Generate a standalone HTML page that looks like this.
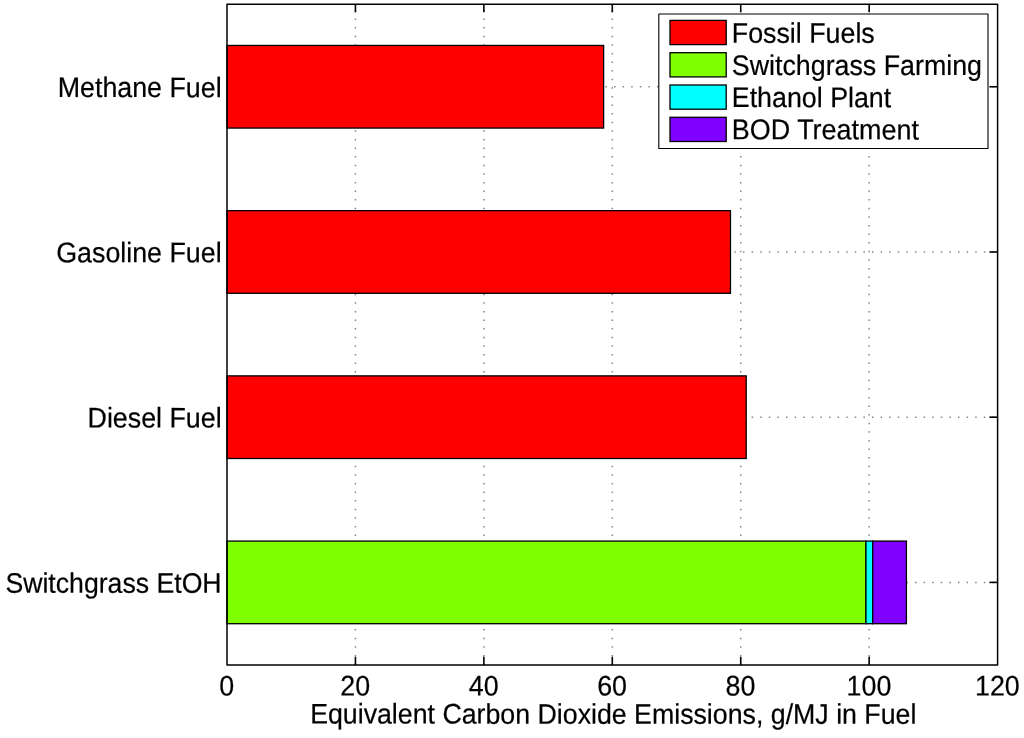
<!DOCTYPE html>
<html><head><meta charset="utf-8"><title>Equivalent Carbon Dioxide Emissions</title>
<style>
html,body{margin:0;padding:0;background:#fff;}
body{width:1024px;height:738px;overflow:hidden;}
svg{display:block;}
text{font-family:"Liberation Sans",Arial,Helvetica,sans-serif;font-size:26.8px;fill:#000;stroke:#000;stroke-width:0.2px;text-rendering:geometricPrecision;}
</style></head><body>
<svg width="1024" height="738" viewBox="0 0 1024 738">
<rect x="0" y="0" width="1024" height="738" fill="#fff"/>

<line x1="355.43" y1="665.00" x2="355.43" y2="4.15" stroke="#000" stroke-width="1.5" stroke-dasharray="1.5 7.1" stroke-opacity="0.48"/>
<line x1="483.87" y1="665.00" x2="483.87" y2="4.15" stroke="#000" stroke-width="1.5" stroke-dasharray="1.5 7.1" stroke-opacity="0.48"/>
<line x1="612.30" y1="665.00" x2="612.30" y2="4.15" stroke="#000" stroke-width="1.5" stroke-dasharray="1.5 7.1" stroke-opacity="0.48"/>
<line x1="740.73" y1="665.00" x2="740.73" y2="4.15" stroke="#000" stroke-width="1.5" stroke-dasharray="1.5 7.1" stroke-opacity="0.48"/>
<line x1="869.17" y1="665.00" x2="869.17" y2="4.15" stroke="#000" stroke-width="1.5" stroke-dasharray="1.5 7.1" stroke-opacity="0.48"/>
<line x1="227.00" y1="86.76" x2="997.60" y2="86.76" stroke="#000" stroke-width="1.5" stroke-dasharray="1.5 7.1" stroke-opacity="0.48"/>
<line x1="227.00" y1="251.97" x2="997.60" y2="251.97" stroke="#000" stroke-width="1.5" stroke-dasharray="1.5 7.1" stroke-opacity="0.48"/>
<line x1="227.00" y1="417.18" x2="997.60" y2="417.18" stroke="#000" stroke-width="1.5" stroke-dasharray="1.5 7.1" stroke-opacity="0.48"/>
<line x1="227.00" y1="582.39" x2="997.60" y2="582.39" stroke="#000" stroke-width="1.5" stroke-dasharray="1.5 7.1" stroke-opacity="0.48"/>
<line x1="355.43" y1="665.0" x2="355.43" y2="656.8" stroke="#000" stroke-width="1.6"/>
<line x1="355.43" y1="4.15" x2="355.43" y2="12.35" stroke="#000" stroke-width="1.6"/>
<line x1="483.87" y1="665.0" x2="483.87" y2="656.8" stroke="#000" stroke-width="1.6"/>
<line x1="483.87" y1="4.15" x2="483.87" y2="12.35" stroke="#000" stroke-width="1.6"/>
<line x1="612.30" y1="665.0" x2="612.30" y2="656.8" stroke="#000" stroke-width="1.6"/>
<line x1="612.30" y1="4.15" x2="612.30" y2="12.35" stroke="#000" stroke-width="1.6"/>
<line x1="740.73" y1="665.0" x2="740.73" y2="656.8" stroke="#000" stroke-width="1.6"/>
<line x1="740.73" y1="4.15" x2="740.73" y2="12.35" stroke="#000" stroke-width="1.6"/>
<line x1="869.17" y1="665.0" x2="869.17" y2="656.8" stroke="#000" stroke-width="1.6"/>
<line x1="869.17" y1="4.15" x2="869.17" y2="12.35" stroke="#000" stroke-width="1.6"/>
<line x1="227.0" y1="86.76" x2="235.2" y2="86.76" stroke="#000" stroke-width="1.6"/>
<line x1="997.6" y1="86.76" x2="989.4" y2="86.76" stroke="#000" stroke-width="1.6"/>
<line x1="227.0" y1="251.97" x2="235.2" y2="251.97" stroke="#000" stroke-width="1.6"/>
<line x1="997.6" y1="251.97" x2="989.4" y2="251.97" stroke="#000" stroke-width="1.6"/>
<line x1="227.0" y1="417.18" x2="235.2" y2="417.18" stroke="#000" stroke-width="1.6"/>
<line x1="997.6" y1="417.18" x2="989.4" y2="417.18" stroke="#000" stroke-width="1.6"/>
<line x1="227.0" y1="582.39" x2="235.2" y2="582.39" stroke="#000" stroke-width="1.6"/>
<line x1="997.6" y1="582.39" x2="989.4" y2="582.39" stroke="#000" stroke-width="1.6"/>
<rect x="227.00" y="45.45" width="376.63" height="82.61" fill="#ff0000" stroke="#000" stroke-width="1.3"/>
<rect x="227.00" y="210.67" width="503.46" height="82.61" fill="#ff0000" stroke="#000" stroke-width="1.3"/>
<rect x="227.00" y="375.88" width="519.19" height="82.61" fill="#ff0000" stroke="#000" stroke-width="1.3"/>
<rect x="227.00" y="541.09" width="638.96" height="82.61" fill="#80ff00" stroke="#000" stroke-width="1.3"/>
<rect x="865.96" y="541.09" width="6.74" height="82.61" fill="#00ffff" stroke="#000" stroke-width="1.3"/>
<rect x="872.70" y="541.09" width="33.71" height="82.61" fill="#8000ff" stroke="#000" stroke-width="1.3"/>
<rect x="227.0" y="4.15" width="770.60" height="660.85" fill="none" stroke="#000" stroke-width="1.5" stroke-linejoin="round"/>
<text transform="translate(226.80 695.50) scale(1 1.06) rotate(0.03)" text-anchor="middle">0</text>
<text transform="translate(355.23 695.50) scale(1 1.06) rotate(0.03)" text-anchor="middle">20</text>
<text transform="translate(483.67 695.50) scale(1 1.06) rotate(0.03)" text-anchor="middle">40</text>
<text transform="translate(612.10 695.50) scale(1 1.06) rotate(0.03)" text-anchor="middle">60</text>
<text transform="translate(740.53 695.50) scale(1 1.06) rotate(0.03)" text-anchor="middle">80</text>
<text transform="translate(868.97 695.50) scale(1 1.06) rotate(0.03)" text-anchor="middle">100</text>
<text transform="translate(997.40 695.50) scale(1 1.06) rotate(0.03)" text-anchor="middle">120</text>
<text transform="translate(221.60 97.16) scale(1 1.06) rotate(0.03)" text-anchor="end" style="font-size:26.8px">Methane Fuel</text>
<text transform="translate(221.60 262.37) scale(1 1.06) rotate(0.03)" text-anchor="end" style="font-size:26.8px">Gasoline Fuel</text>
<text transform="translate(221.60 427.58) scale(1 1.06) rotate(0.03)" text-anchor="end" style="font-size:26.8px">Diesel Fuel</text>
<text transform="translate(221.60 592.79) scale(1 1.06) rotate(0.03)" text-anchor="end" style="font-size:26.65px">Switchgrass EtOH</text>
<text transform="translate(613.25 723.70) scale(1 1.06) rotate(0.03)" text-anchor="middle" style="font-size:26.74px">Equivalent Carbon Dioxide Emissions, g/MJ in Fuel</text>
<rect x="658.8" y="14" width="329.2" height="134.5" fill="#fff" stroke="#000" stroke-width="1.1" stroke-linejoin="round"/>
<rect x="670" y="20.40" width="56.2" height="24.2" fill="#ff0000" stroke="#000" stroke-width="1.3"/>
<text transform="translate(731.80 42.70) scale(1 1.06) rotate(0.03)" text-anchor="start" style="font-size:26.8px">Fossil Fuels</text>
<rect x="670" y="52.70" width="56.2" height="24.2" fill="#80ff00" stroke="#000" stroke-width="1.3"/>
<text transform="translate(731.80 74.90) scale(1 1.06) rotate(0.03)" text-anchor="start" style="font-size:26.8px">Switchgrass Farming</text>
<rect x="670" y="85.00" width="56.2" height="24.2" fill="#00ffff" stroke="#000" stroke-width="1.3"/>
<text transform="translate(731.80 107.10) scale(1 1.06) rotate(0.03)" text-anchor="start" style="font-size:26.8px">Ethanol Plant</text>
<rect x="670" y="117.30" width="56.2" height="24.2" fill="#8000ff" stroke="#000" stroke-width="1.3"/>
<text transform="translate(731.80 139.30) scale(1 1.06) rotate(0.03)" text-anchor="start" style="font-size:26.95px">BOD Treatment</text>
</svg></body></html>
